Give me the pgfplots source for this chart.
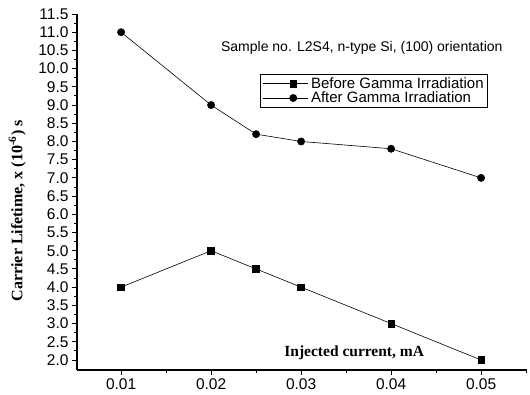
\documentclass[border=0pt]{standalone}
\usepackage{pgfplots}
\pgfplotsset{compat=1.18}
\usepackage{fontspec}
\setmainfont{Liberation Serif}
\newfontfamily\arial{Liberation Sans}
\begin{document}
\begin{tikzpicture}
\begin{axis}[
  at={(0,0)}, anchor=south west,
  scale only axis, width=450pt, height=356pt,
  xmin=0.0051, xmax=0.0551, ymin=1.725, ymax=11.5,
  axis lines=left, axis line style={-, line width=1.2pt},
  tick align=outside, major tick length=5pt, minor tick length=3pt,
  tick style={black, line width=0.9pt},
  xtick={0.01,0.02,0.03,0.04,0.05},
  minor xtick={0.005,0.015,0.025,0.035,0.045,0.055},
  ytick={2,2.5,...,11.5},
  minor ytick={2.25,2.75,...,11.25},
  /pgf/number format/assume math mode=true,
  xticklabel style={font=\arial\fontsize{15.5}{17}\selectfont, /pgf/number format/.cd, fixed, fixed zerofill, precision=2},
  yticklabel style={font=\arial\fontsize{15.5}{17}\selectfont, /pgf/number format/.cd, fixed, fixed zerofill, precision=1},
  scaled x ticks=false,
  ylabel={\bfseries Carrier Lifetime, x (10\textsuperscript{-6}) s},
  ylabel style={font=\fontsize{16}{18}\selectfont, at={(axis description cs:-0.133,0.447)}, anchor=center},
  legend style={at={(rel axis cs:0.407,0.831)}, anchor=north west, draw=black, line width=0.6pt,
    font=\arial\fontsize{15}{17}\selectfont, inner xsep=2pt, inner ysep=1pt, row sep=-2pt, legend cell align=left,
    /tikz/every odd column/.append style={column sep=1pt}},
  legend image code/.code={\path (0pt,0pt) -- (16pt,0pt); \draw[mark repeat=2, mark phase=2, line width=0.6pt] plot coordinates {(16pt,0pt) (30.5pt,0pt) (45pt,0pt)};},
]
\addplot[black, line width=0.6pt, mark=square*, mark size=3.3pt, mark options={solid}]
coordinates {(0.01,4.0) (0.02,5.0) (0.025,4.5) (0.03,4.0) (0.04,3.0) (0.05,2.0)};
\addlegendentry{Before Gamma Irradiation}
\addplot[black, line width=0.6pt, mark=*, mark size=3.6pt]
coordinates {(0.01,11.0) (0.02,9.0) (0.025,8.2) (0.03,8.0) (0.04,7.8) (0.05,7.0)};
\addlegendentry{After Gamma Irradiation}
\node[font=\arial\fontsize{14}{16}\selectfont] at (rel axis cs:0.633,0.904) {Sample no. L2S4, n-type Si, (100) orientation};
\node[font=\bfseries\fontsize{15.5}{17}\selectfont] at (rel axis cs:0.616,0.048) {Injected current, mA};
\end{axis}
\path[use as bounding box] (-77pt,-24pt) rectangle (453pt,370pt);
\end{tikzpicture}
\end{document}
